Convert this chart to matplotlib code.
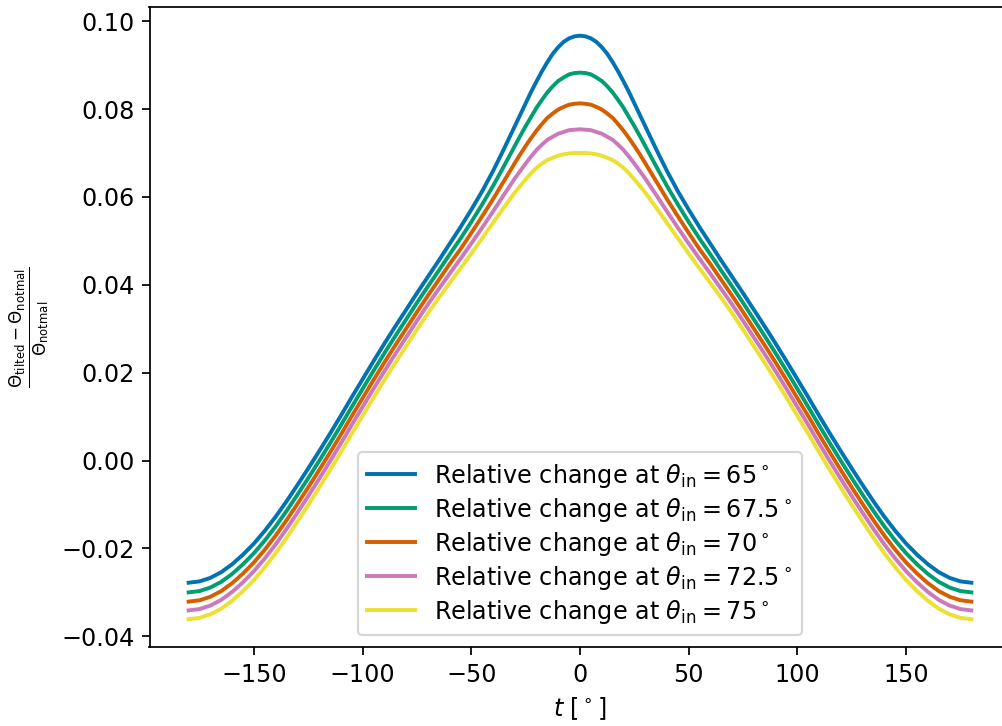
import matplotlib
matplotlib.use("Agg")
import matplotlib.pyplot as plt

# curves are symmetric in t, values read for t >= 0 and mirrored
t_half = [0, 2.5, 5, 7.5, 10, 12.5, 15, 17.5, 20, 22.5, 25, 27.5, 30, 35, 40, 45, 50, 55, 60,
          65, 70, 75, 80, 85, 90, 95, 100, 105, 110, 115, 120, 125, 130, 135, 140, 145, 150,
          155, 160, 165, 170, 175, 180]

theta_in = ["65", "67.5", "70", "72.5", "75"]

rel_65 = [0.0967, 0.09655, 0.0961, 0.0953, 0.0941, 0.0926, 0.0907, 0.0886, 0.0863, 0.0839,
          0.0813, 0.0787, 0.0761, 0.0709, 0.0659, 0.0613, 0.0571, 0.0531, 0.0493, 0.0455,
          0.0418, 0.0381, 0.0343, 0.0305, 0.0266, 0.0226, 0.0185, 0.0144, 0.0102, 0.0061,
          0.0021, -0.0018, -0.0056, -0.0093, -0.0128, -0.0160, -0.0189, -0.0214, -0.0236,
          -0.0254, -0.0267, -0.0275, -0.0278]
rel_675 = [0.0883, 0.0882, 0.0879, 0.0872, 0.0864, 0.0852, 0.0838, 0.0821, 0.0803, 0.0782,
           0.0761, 0.0739, 0.0716, 0.0670, 0.0625, 0.0583, 0.0543, 0.0505, 0.0469, 0.0432,
           0.0396, 0.0359, 0.0321, 0.0283, 0.0244, 0.0204, 0.0163, 0.0122, 0.0080, 0.0039,
           -0.0001, -0.0040, -0.0078, -0.0115, -0.0150, -0.0182, -0.0211, -0.0236, -0.0258,
           -0.0276, -0.0289, -0.0297, -0.0300]
rel_70 = [0.0813, 0.0812, 0.0810, 0.0805, 0.0799, 0.0790, 0.0780, 0.0766, 0.0751, 0.0734,
          0.0716, 0.0697, 0.0677, 0.0636, 0.0595, 0.0556, 0.0518, 0.0481, 0.0447, 0.0411,
          0.0375, 0.0338, 0.0300, 0.0262, 0.0223, 0.0183, 0.0142, 0.0101, 0.0059, 0.0018,
          -0.0022, -0.0061, -0.0099, -0.0136, -0.0171, -0.0203, -0.0232, -0.0257, -0.0279,
          -0.0297, -0.0310, -0.0318, -0.0321]
rel_725 = [0.0754, 0.0753, 0.0752, 0.0748, 0.0744, 0.0737, 0.0730, 0.0719, 0.0707, 0.0692,
           0.0676, 0.0659, 0.0642, 0.0605, 0.0567, 0.0530, 0.0494, 0.0459, 0.0425, 0.0390,
           0.0355, 0.0318, 0.0280, 0.0242, 0.0203, 0.0163, 0.0122, 0.0081, 0.0039, -0.0002,
           -0.0042, -0.0081, -0.0119, -0.0156, -0.0191, -0.0223, -0.0252, -0.0277, -0.0299,
           -0.0317, -0.0330, -0.0338, -0.0341]
rel_75 = [0.0700, 0.0700, 0.0699, 0.0697, 0.0694, 0.0689, 0.0684, 0.0676, 0.0666, 0.0654,
          0.0640, 0.0625, 0.0610, 0.0576, 0.0541, 0.0506, 0.0471, 0.0437, 0.0404, 0.0370,
          0.0335, 0.0298, 0.0260, 0.0222, 0.0183, 0.0143, 0.0102, 0.0061, 0.0019, -0.0022,
          -0.0062, -0.0101, -0.0139, -0.0176, -0.0211, -0.0243, -0.0272, -0.0297, -0.0319,
          -0.0337, -0.0350, -0.0358, -0.0361]

colors = ["#0173b2", "#029e73", "#d55e00", "#cc78bc", "#ece133"]


def mirror(half):
    return half[:0:-1] + half


t = [-v for v in t_half[:0:-1]] + t_half
series = [mirror(s) for s in [rel_65, rel_675, rel_70, rel_725, rel_75]]

plt.rcParams["font.size"] = 11

dpi = 156.5625
fig = plt.figure(figsize=(1002 / dpi, 726 / dpi), dpi=dpi)
ax = fig.add_axes([149.5 / 1002, 78.7 / 726, 861 / 1002, 640.6 / 726])

for vals, ang, c in zip(series, theta_in, colors):
    ax.plot(t, vals, color=c, lw=1.8,
            label=r"Relative change at $\theta_{\rm in} = " + ang + r"^\circ$")

ax.set_xlim(-198, 198)
ax.set_ylim(-0.0425, 0.1033)
ax.set_xticks([-150, -100, -50, 0, 50, 100, 150])
ax.set_yticks([-0.04, -0.02, 0.00, 0.02, 0.04, 0.06, 0.08, 0.10])
ax.set_xlabel(r"$t$ [$^\circ$]")
ax.set_ylabel(r"$\frac{\Theta_{\rm tilted}-\Theta_{\rm notmal}}{\Theta_{\rm notmal}}$")

ax.legend(loc="lower center", labelspacing=0.25)

fig.savefig("out.png", dpi=dpi)
